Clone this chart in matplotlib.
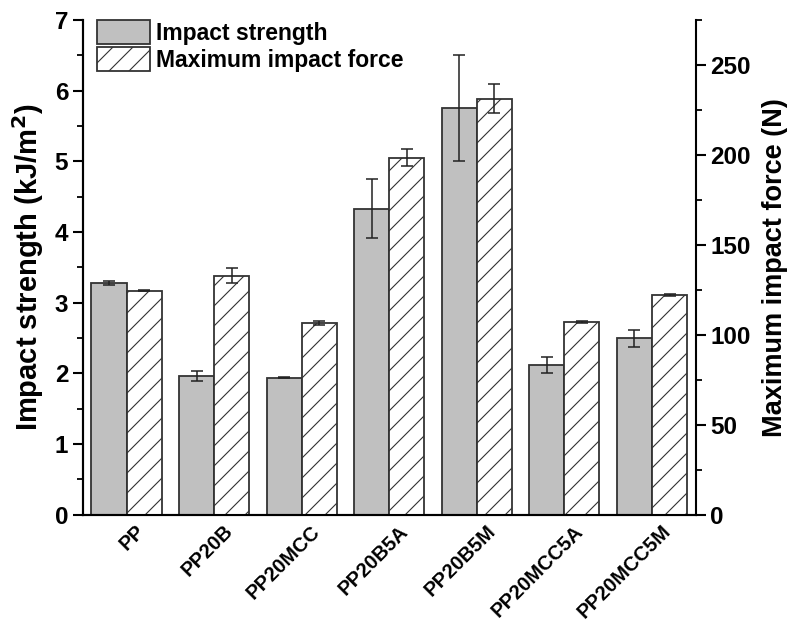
import matplotlib
matplotlib.use("Agg")
import matplotlib.pyplot as plt
import matplotlib.hatch as mhatch
import matplotlib.transforms as mtransforms
import numpy as np
from matplotlib.patches import Patch

# slightly sparser diagonal hatch, as in the reference
def _ne_init(self, hatch, density):
    n = hatch.count('/') + hatch.count('x') + hatch.count('X')
    self.num_lines = int(n * 10)
    self.num_vertices = (self.num_lines + 1) * 2 if self.num_lines else 0
mhatch.NorthEastHatch.__init__ = _ne_init

plt.rcParams['font.family'] = ['Liberation Sans', 'DejaVu Sans']
plt.rcParams['hatch.linewidth'] = 0.8
plt.rcParams['hatch.color'] = '#333333'

categories = ["PP", "PP20B", "PP20MCC", "PP20B5A", "PP20B5M", "PP20MCC5A", "PP20MCC5M"]
impact_strength = [3.28, 1.96, 1.94, 4.33, 5.76, 2.12, 2.50]
impact_strength_err = [0.03, 0.07, 0.01, 0.42, 0.75, 0.11, 0.12]
max_force = [124.6, 133.0, 106.5, 198.5, 231.3, 107.2, 122.0]
max_force_err = [0.4, 4.0, 1.1, 4.8, 8.0, 0.6, 0.6]

fig = plt.figure(figsize=(7.88, 6.27), dpi=100)
ax = fig.add_axes([0.105, 0.179, 0.778, 0.789])
ax2 = ax.twinx()

x = np.arange(len(categories))
w = 0.4
edge = '#333333'
ax.bar(x - w/2, impact_strength, w, color='#c0c0c0', edgecolor=edge, linewidth=1.3,
       yerr=impact_strength_err, capsize=4, error_kw=dict(elinewidth=1.1, capthick=1.1, ecolor='#222222'))
ax2.bar(x + w/2, max_force, w, color='white', edgecolor=edge, linewidth=1.3, hatch='/',
        yerr=max_force_err, capsize=4, error_kw=dict(elinewidth=1.1, capthick=1.1, ecolor='#222222'))

ax.set_xlim(-0.5, 6.5)
ax.set_ylim(0, 7)
ax2.set_ylim(0, 275)
ax.set_yticks(range(0, 8))
ax.set_yticks(np.arange(0.5, 7, 1), minor=True)
ax2.set_yticks(range(0, 251, 50))
ax2.set_yticks(np.arange(25, 276, 50), minor=True)

for a in (ax, ax2):
    a.spines['top'].set_visible(False)
    for s in a.spines.values():
        s.set_linewidth(1.5)
ax.spines['right'].set_visible(False)

ax.tick_params(axis='y', which='major', direction='out', length=7, width=1.5, labelsize=17.5)
ax.tick_params(axis='y', which='minor', direction='out', length=4, width=1.3)
ax2.tick_params(axis='y', which='major', direction='out', length=7, width=1.5, labelsize=17.5)
ax2.tick_params(axis='y', which='minor', direction='out', length=4, width=1.3)
ax.tick_params(axis='x', length=0, pad=5)
for lab in ax.get_yticklabels() + ax2.get_yticklabels():
    lab.set_fontweight('bold')

ax.set_xticks(x)
ax.set_xticklabels(categories, rotation=45, ha='right', rotation_mode='anchor',
                   fontsize=14.5, fontweight='bold')
offset = mtransforms.ScaledTranslation(9/100, 0, fig.dpi_scale_trans)
for lab in ax.get_xticklabels():
    lab.set_transform(lab.get_transform() + offset)

ax.set_ylabel('Impact strength (kJ/m$^\\mathbf{2}$)', fontsize=21, fontweight='bold', labelpad=6)
ax2.set_ylabel('Maximum impact force (N)', fontsize=19.5, fontweight='bold', labelpad=8)

handles = [Patch(facecolor='#c0c0c0', edgecolor=edge, linewidth=1.3, label='Impact strength'),
           Patch(facecolor='white', edgecolor=edge, linewidth=1.3, hatch='/', label='Maximum impact force')]
leg = ax2.legend(handles=handles, loc='upper left', bbox_to_anchor=(0.023, 1.0), frameon=False,
                 prop=dict(size=16.5, weight='bold'), handlelength=2.3, handleheight=1.2,
                 handletextpad=0.3, labelspacing=0.12, borderaxespad=0, borderpad=0)

fig.savefig('out.png', dpi=100)
